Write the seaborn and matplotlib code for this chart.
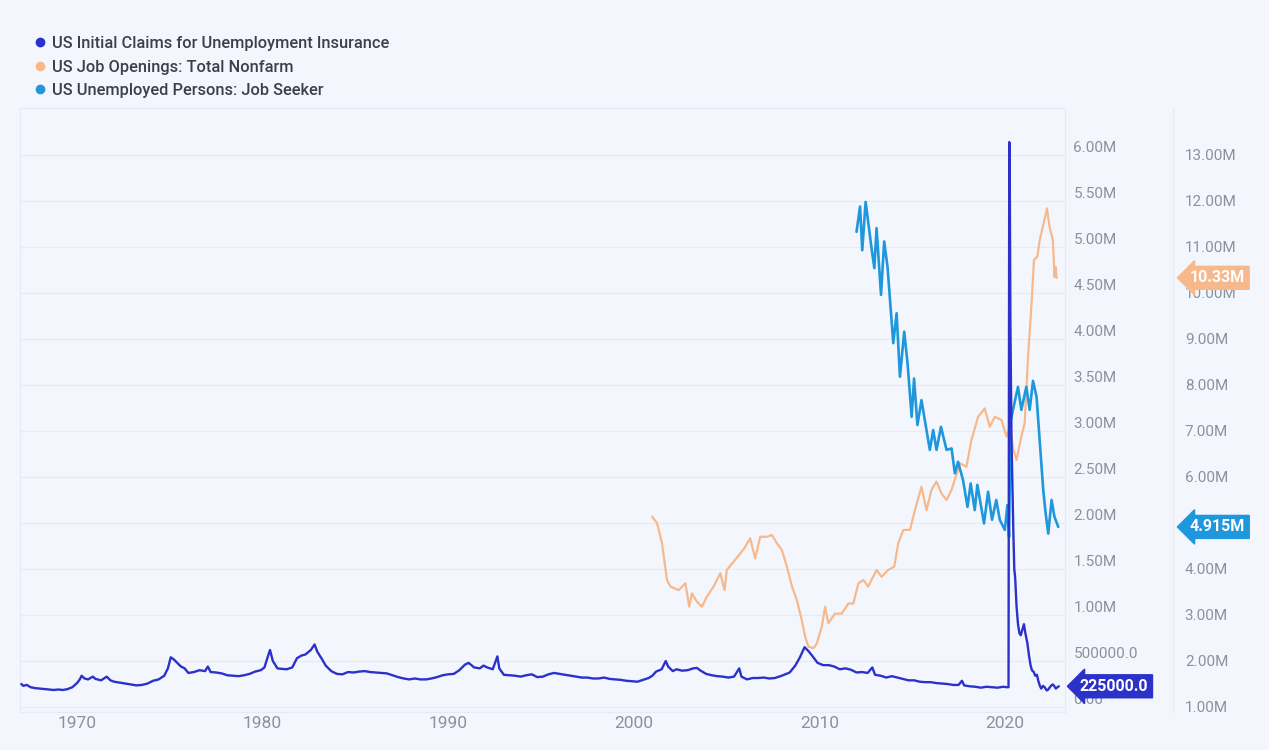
import matplotlib
matplotlib.use("Agg")
import matplotlib.pyplot as plt
from matplotlib.lines import Line2D
from matplotlib.transforms import blended_transform_factory
import numpy as np
import pandas as pd
import seaborn as sns

# ---------------- data ----------------
series_names = ["US Initial Claims for Unemployment Insurance",
                "US Job Openings: Total Nonfarm",
                "US Unemployed Persons: Job Seeker"]

claims_year = [1967.00, 1967.10, 1967.30, 1967.50, 1967.75, 1968.00, 1968.25, 1968.50, 1968.75,
               1969.00, 1969.25, 1969.50, 1969.75, 1970.00, 1970.15, 1970.25, 1970.40, 1970.60, 1970.85,
               1971.00, 1971.30, 1971.60, 1971.80, 1972.00, 1972.30, 1972.60, 1972.90, 1973.20, 1973.50,
               1973.80, 1974.10, 1974.40, 1974.70, 1974.90, 1975.05, 1975.20, 1975.40, 1975.60, 1975.80,
               1976.00, 1976.30, 1976.60, 1976.90, 1977.05, 1977.20, 1977.50, 1977.80, 1978.10, 1978.40,
               1978.70, 1979.00, 1979.30, 1979.60, 1979.90, 1980.10, 1980.30, 1980.40, 1980.55, 1980.80,
               1981.00, 1981.30, 1981.60, 1981.85, 1982.10, 1982.30, 1982.60, 1982.80, 1982.95, 1983.20,
               1983.40, 1983.70, 1984.00, 1984.30, 1984.60, 1984.90, 1985.20, 1985.50, 1985.80, 1986.10,
               1986.40, 1986.70, 1987.00, 1987.30, 1987.60, 1987.90, 1988.20, 1988.50, 1988.80, 1989.10,
               1989.40, 1989.70, 1990.00, 1990.30, 1990.60, 1990.90, 1991.10, 1991.40, 1991.70, 1991.90,
               1992.10, 1992.40, 1992.65, 1992.75, 1993.00, 1993.30, 1993.60, 1993.90, 1994.20, 1994.50,
               1994.80, 1995.10, 1995.40, 1995.70, 1996.00, 1996.30, 1996.60, 1996.90, 1997.20, 1997.50,
               1997.80, 1998.10, 1998.40, 1998.70, 1999.00, 1999.30, 1999.60, 1999.90, 2000.20, 2000.50,
               2000.80, 2001.00, 2001.20, 2001.50, 2001.72, 2001.85, 2002.10, 2002.30, 2002.60, 2002.90,
               2003.20, 2003.40, 2003.60, 2003.90, 2004.20, 2004.50, 2004.80, 2005.10, 2005.40, 2005.68,
               2005.80, 2006.10, 2006.40, 2006.70, 2007.00, 2007.30, 2007.60, 2007.90, 2008.10, 2008.40,
               2008.70, 2008.95, 2009.20, 2009.40, 2009.60, 2009.90, 2010.20, 2010.50, 2010.80, 2011.10,
               2011.40, 2011.70, 2012.00, 2012.30, 2012.60, 2012.85, 2013.00, 2013.30, 2013.60, 2013.90,
               2014.20, 2014.50, 2014.80, 2015.10, 2015.40, 2015.70, 2016.00, 2016.30, 2016.60, 2016.90,
               2017.20, 2017.50, 2017.68, 2017.80, 2018.10, 2018.40, 2018.70, 2019.00, 2019.30, 2019.60,
               2019.90, 2020.10, 2020.19, 2020.21, 2020.23, 2020.25, 2020.27, 2020.29, 2020.31, 2020.35,
               2020.40, 2020.45, 2020.50, 2020.55, 2020.62, 2020.70, 2020.78, 2020.85, 2020.95, 2021.02,
               2021.10, 2021.20, 2021.30, 2021.38, 2021.45, 2021.55, 2021.63, 2021.72, 2021.80, 2021.88,
               2021.95, 2022.05, 2022.15, 2022.25, 2022.33, 2022.42, 2022.50, 2022.58, 2022.66, 2022.74,
               2022.82, 2022.90]
claims_k = [250, 230, 240, 215, 205, 200, 195, 190, 185,
            190, 185, 195, 215, 260, 300, 340, 310, 300, 330,
            305, 290, 330, 290, 275, 265, 255, 245, 235, 240,
            255, 285, 300, 340, 420, 540, 520, 480, 440, 420,
            370, 380, 400, 390, 440, 380, 375, 365, 345, 340,
            335, 345, 360, 385, 400, 430, 560, 620, 500, 420,
            415, 410, 430, 530, 560, 570, 620, 680, 600, 520,
            450, 390, 360, 355, 380, 375, 385, 390, 380, 375,
            370, 365, 345, 325, 310, 300, 310, 300, 300, 310,
            325, 345, 355, 360, 400, 460, 480, 430, 420, 450,
            430, 410, 550, 420, 350, 345, 340, 330, 345, 355,
            325, 330, 355, 370, 360, 350, 340, 330, 320, 320,
            310, 310, 320, 305, 300, 295, 285, 280, 275, 295,
            315, 340, 385, 410, 500, 440, 390, 410, 395, 400,
            420, 425, 395, 360, 345, 335, 330, 320, 330, 420,
            330, 300, 315, 315, 320, 310, 315, 335, 350, 375,
            450, 540, 650, 610, 560, 480, 455, 455, 440, 410,
            420, 405, 375, 380, 370, 430, 350, 340, 320, 335,
            320, 305, 290, 290, 275, 270, 270, 260, 255, 250,
            240, 240, 285, 235, 225, 220, 210, 220, 215, 210,
            220, 215, 215, 2900, 6140, 6100, 5000, 4200, 3800, 2900,
            2400, 1900, 1500, 1400, 1100, 900, 800, 780, 850, 900,
            800, 700, 550, 450, 400, 380, 340, 350, 280, 230,
            200, 230, 210, 180, 190, 215, 235, 245, 225, 200,
            215, 225]

openings_year = [2000.98, 2001.25, 2001.52, 2001.79, 2001.97, 2002.42, 2002.78, 2002.99, 2003.13,
                 2003.40, 2003.67, 2003.94, 2004.30, 2004.66, 2004.89, 2005.01, 2005.38, 2005.74,
                 2006.00, 2006.27, 2006.54, 2006.81, 2007.17, 2007.44, 2007.71, 2007.98, 2008.25,
                 2008.52, 2008.78, 2009.05, 2009.23, 2009.41, 2009.68, 2009.86, 2010.13, 2010.31,
                 2010.48, 2010.84, 2011.20, 2011.56, 2011.83, 2012.10, 2012.37, 2012.63, 2013.08,
                 2013.35, 2013.71, 2014.03, 2014.25, 2014.52, 2014.88, 2015.15, 2015.50, 2015.77,
                 2016.04, 2016.31, 2016.58, 2016.85, 2017.12, 2017.58, 2017.92, 2018.19, 2018.55,
                 2018.91, 2019.18, 2019.45, 2019.81, 2020.08, 2020.26, 2020.45, 2020.62, 2020.88,
                 2021.06, 2021.24, 2021.42, 2021.56, 2021.74, 2021.87, 2022.04, 2022.26, 2022.40,
                 2022.58, 2022.67, 2022.72, 2022.78]
openings_m = [5.14, 5.00, 4.56, 3.76, 3.62, 3.54, 3.69, 3.18, 3.47,
              3.29, 3.18, 3.40, 3.62, 3.91, 3.54, 3.98, 4.16, 4.34,
              4.48, 4.67, 4.23, 4.70, 4.70, 4.74, 4.56, 4.41, 4.05,
              3.62, 3.33, 2.89, 2.53, 2.31, 2.28, 2.38, 2.75, 3.18,
              2.82, 3.03, 3.03, 3.25, 3.25, 3.69, 3.76, 3.62, 3.98,
              3.83, 3.98, 4.05, 4.56, 4.85, 4.85, 5.28, 5.79, 5.28,
              5.72, 5.90, 5.64, 5.50, 5.72, 6.30, 6.22, 6.80, 7.31,
              7.49, 7.09, 7.31, 7.24, 6.88, 7.09, 6.60, 6.37, 6.88,
              7.17, 8.61, 9.70, 10.72, 10.79, 11.15, 11.44, 11.84, 11.44,
              11.15, 10.35, 10.57, 10.33]

seekers_year = [2012.00, 2012.19, 2012.31, 2012.49, 2012.81, 2012.96, 2013.08, 2013.32, 2013.49,
                2013.67, 2013.98, 2014.16, 2014.34, 2014.57, 2014.75, 2014.97, 2015.10, 2015.28,
                2015.50, 2015.77, 2015.95, 2016.13, 2016.31, 2016.55, 2016.85, 2017.12, 2017.30,
                2017.47, 2017.74, 2017.98, 2018.15, 2018.37, 2018.51, 2018.87, 2019.09, 2019.30,
                2019.53, 2019.72, 2019.99, 2020.13, 2020.22, 2020.30, 2020.43, 2020.70, 2020.88,
                2021.15, 2021.33, 2021.51, 2021.70, 2022.06, 2022.19, 2022.33, 2022.51, 2022.66,
                2022.87]
seekers_m = [11.33, 11.88, 10.93, 11.98, 10.97, 10.54, 11.41, 9.96, 11.12,
             10.57, 8.91, 9.56, 8.18, 9.16, 8.47, 7.31, 8.14, 7.13,
             7.67, 7.02, 6.59, 7.02, 6.59, 7.09, 6.59, 6.62, 6.08,
             6.33, 5.93, 5.35, 5.86, 5.28, 5.83, 4.99, 5.68, 5.07,
             5.50, 5.07, 4.85, 5.39, 4.70, 7.20, 7.46, 7.96, 7.46,
             7.96, 7.46, 8.09, 7.74, 5.72, 5.21, 4.77, 5.50, 5.14,
             4.915]

x_ticks = [1970, 1980, 1990, 2000, 2010, 2020]
claims_ticks = [0, 0.5, 1, 1.5, 2, 2.5, 3, 3.5, 4, 4.5, 5, 5.5, 6]
claims_tick_labels = ["0.00", "500000.0", "1.00M", "1.50M", "2.00M", "2.50M", "3.00M",
                      "3.50M", "4.00M", "4.50M", "5.00M", "5.50M", "6.00M"]
right_ticks = list(range(1, 14))
right_tick_labels = [f"{v}.00M" for v in right_ticks]
last_labels = ["225000.0", "10.33M", "4.915M"]

# ---------------- style ----------------
BG = "#f3f7fd"
C_CLAIMS = "#2b31c9"
C_OPEN = "#f7b98c"
C_SEEK = "#1f97dc"
TICK_C = "#8c919a"
GRID_C = "#e5ebf4"

sns.set_theme(style="white")
plt.rcParams["font.family"] = ["Roboto", "DejaVu Sans"]

W, H = 1269, 750
fig = plt.figure(figsize=(W / 100, H / 100), dpi=100, facecolor=BG)
L, R, T, B = 20, 1065, 108, 712
ax = fig.add_axes([L / W, 1 - B / H, (R - L) / W, (B - T) / H])
ax2 = ax.twinx()

df_c = pd.DataFrame({"year": claims_year, "value": np.array(claims_k) / 1000.0})
df_o = pd.DataFrame({"year": openings_year, "value": openings_m})
df_s = pd.DataFrame({"year": seekers_year, "value": seekers_m})

sns.lineplot(data=df_o, x="year", y="value", ax=ax2, color=C_OPEN, linewidth=1.6)
sns.lineplot(data=df_s, x="year", y="value", ax=ax2, color=C_SEEK, linewidth=1.9)
sns.lineplot(data=df_c, x="year", y="value", ax=ax, color=C_CLAIMS, linewidth=1.7)

ax.set_zorder(ax2.get_zorder() + 1)
ax.patch.set_visible(False)
ax2.set_facecolor(BG)

px_per_year = (1005 - 77) / 50.0
ax.set_xlim(1970 - (77 - L) / px_per_year, 2020 + (R - 1005) / px_per_year)
ax.set_ylim(-(B - 707) / 92.0, (707 - T) / 92.0)
ax2.set_ylim(1 - (B - 707) / 46.0, 1 + (707 - T) / 46.0)

ax.set_xticks(x_ticks)
ax.set_xticklabels([str(v) for v in x_ticks])
ax.tick_params(axis="x", length=0, pad=3, labelsize=12.5, labelcolor=TICK_C)

ax.yaxis.tick_right()
ax.set_yticks(claims_ticks)
ax.set_yticklabels(claims_tick_labels)
ax.tick_params(axis="y", length=0, pad=6, labelsize=11, labelcolor=TICK_C,
               left=False, labelleft=False, right=True, labelright=True)
ax2.set_yticks(right_ticks)
ax2.set_yticklabels(right_tick_labels)
ax2.tick_params(axis="y", length=0, pad=8.5, labelsize=11, labelcolor=TICK_C)
for lab in ax.get_yticklabels() + ax2.get_yticklabels():
    lab.set_verticalalignment("bottom")

ax.set_xlabel("")
ax.set_ylabel("")
ax2.set_ylabel("")

ax2.grid(True, color=GRID_C, linewidth=0.8)
for a in (ax, ax2):
    for s in a.spines.values():
        s.set_color(GRID_C)
        s.set_linewidth(0.8)
ax.spines["top"].set_visible(False)
ax.spines["left"].set_visible(False)
ax.spines["bottom"].set_visible(False)
ax2.spines["right"].set_position(("outward", 108 * 0.72))

# last-value tags
tr1 = blended_transform_factory(ax.transAxes, ax.transData)
tr2 = blended_transform_factory(ax2.transAxes, ax2.transData)
tag_kw = dict(ha="left", va="center", color="white", fontsize=11.5, fontweight="bold",
              clip_on=False, zorder=10)
ax.text((1080 - L) / (R - L), claims_k[-1] / 1000.0, last_labels[0], transform=tr1,
        bbox=dict(boxstyle="larrow,pad=0.25", fc=C_CLAIMS, ec=C_CLAIMS), **tag_kw)
ax2.text((1190 - L) / (R - L), openings_m[-1], last_labels[1], transform=tr2,
         bbox=dict(boxstyle="larrow,pad=0.25", fc=C_OPEN, ec=C_OPEN), **tag_kw)
ax2.text((1190 - L) / (R - L), seekers_m[-1], last_labels[2], transform=tr2,
         bbox=dict(boxstyle="larrow,pad=0.25", fc=C_SEEK, ec=C_SEEK), **tag_kw)

handles = [Line2D([0], [0], marker="o", linestyle="none", markersize=6,
                  markerfacecolor=c, markeredgecolor=c) for c in (C_CLAIMS, C_OPEN, C_SEEK)]
leg = fig.legend(handles, series_names, loc="upper left", bbox_to_anchor=(35 / W, 1 - 36 / H),
                 frameon=False, prop={"size": 11.8, "weight": "medium"}, handlelength=0.65,
                 handletextpad=0.4, labelspacing=0.52, borderpad=0, borderaxespad=0,
                 labelcolor="#3b3f48")

fig.savefig("out.png", dpi=100, facecolor=BG)
